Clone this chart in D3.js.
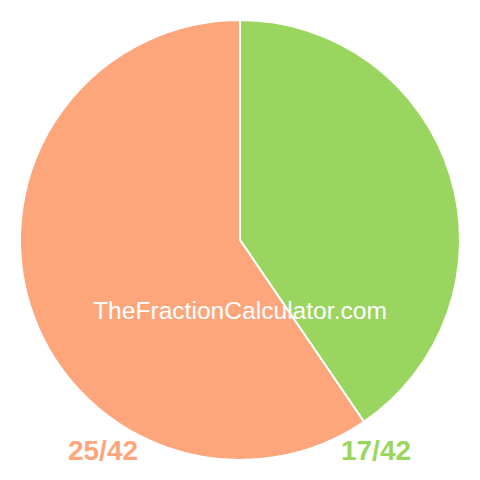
<!DOCTYPE html>
<html>
<head>
<meta charset="utf-8">
<script src="https://cdn.jsdelivr.net/npm/d3@7"></script>
<style>
  body { margin: 0; background: #fff; }
  text { font-family: "Liberation Sans", Arial, sans-serif; }
</style>
</head>
<body>
<svg id="pie"></svg>
<script>
// Slices (numerators out of 42), drawn clockwise from 12 o'clock
const labels = ["17/42", "25/42"];
const values = [17, 25];
const colors = ["#99d55f", "#fda67c"];

let svg = d3.select("#pie").attr("width", 480).attr("height", 480);

let pie = d3.pie().sort(null).value(d => d);
let arc = d3.arc().innerRadius(0).outerRadius(220);

let g = svg.append("g").attr("transform", "translate(240,240)");

g.selectAll("path")
    .data(pie(values))
    .enter().append("path")
    .attr("d", arc)
    .attr("fill", (d, i) => colors[i])
    .attr("stroke", "#fff")
    .attr("stroke-width", 2);

// watermark
svg.append("text")
    .attr("x", 240).attr("y", 319)
    .attr("text-anchor", "middle")
    .attr("font-size", 24.6)
    .attr("fill", "#fff")
    .text("TheFractionCalculator.com");

// fraction labels under the pie
let labelX = [376, 103];
svg.selectAll(".lbl")
    .data(labels)
    .enter().append("text")
    .attr("class", "lbl")
    .attr("x", (d, i) => labelX[i])
    .attr("y", 460)
    .attr("text-anchor", "middle")
    .attr("font-size", 28)
    .attr("font-weight", "bold")
    .attr("fill", (d, i) => colors[i])
    .text(d => d);
</script>
</body>
</html>
